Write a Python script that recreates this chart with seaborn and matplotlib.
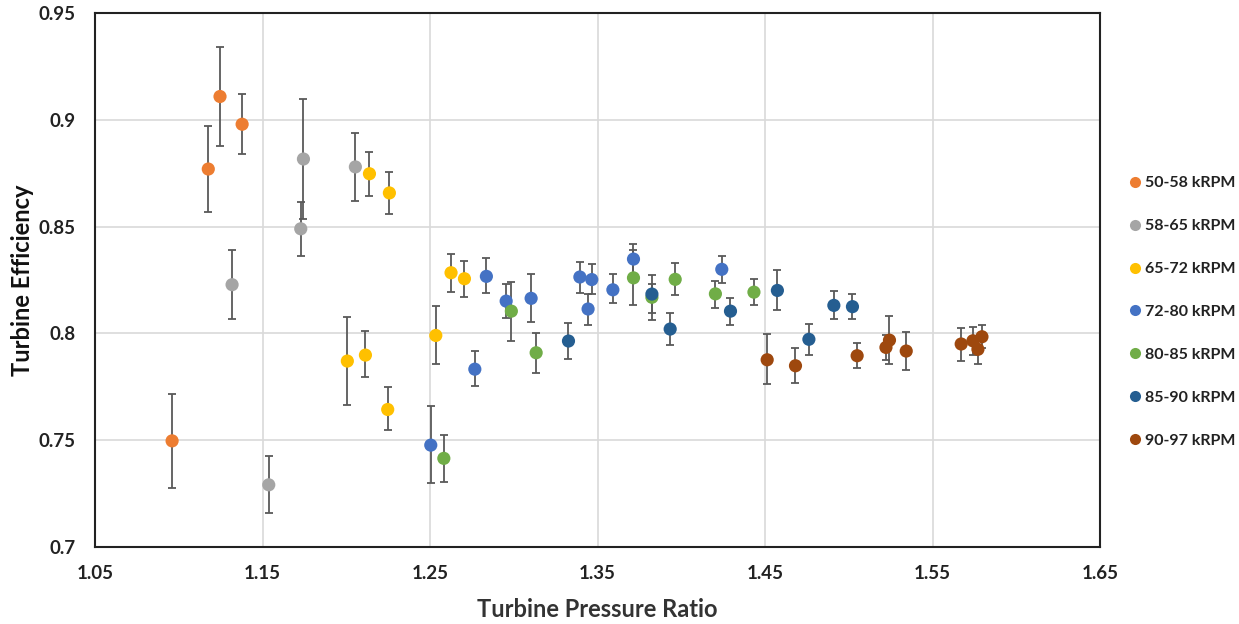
import numpy as np
import pandas as pd
import matplotlib
matplotlib.use("Agg")
import matplotlib.pyplot as plt
from matplotlib.lines import Line2D
import seaborn as sns

series_names = ["50-58 kRPM", "58-65 kRPM", "65-72 kRPM", "72-80 kRPM",
                "80-85 kRPM", "85-90 kRPM", "90-97 kRPM"]
series_colors = ["#ED7D31", "#A5A5A5", "#FFC000", "#4472C4",
                 "#70AD47", "#255E91", "#9E480E"]

# 50-58 kRPM
s1_x = [1.0960, 1.1176, 1.1246, 1.1378]
s1_y = [0.7496, 0.8770, 0.9110, 0.8980]
s1_hi = [0.7715, 0.8970, 0.9340, 0.9120]
s1_lo = [0.7277, 0.8570, 0.8880, 0.8840]

# 58-65 kRPM
s2_x = [1.1318, 1.1537, 1.1728, 1.1744, 1.2054]
s2_y = [0.8228, 0.7290, 0.8490, 0.8817, 0.8780]
s2_hi = [0.8390, 0.7425, 0.8617, 0.9100, 0.8940]
s2_lo = [0.8067, 0.7156, 0.8362, 0.8534, 0.8620]

# 65-72 kRPM
s3_x = [1.2006, 1.2114, 1.2138, 1.2247, 1.2257, 1.2534, 1.2625, 1.2705]
s3_y = [0.7870, 0.7898, 0.8748, 0.7643, 0.8658, 0.7990, 0.8284, 0.8256]
s3_hi = [0.8078, 0.8009, 0.8850, 0.7747, 0.8756, 0.8126, 0.8370, 0.8340]
s3_lo = [0.7662, 0.7794, 0.8644, 0.7545, 0.8560, 0.7856, 0.8192, 0.8169]

# 72-80 kRPM
s4_x = [1.2504, 1.2767, 1.2836, 1.2954, 1.3103, 1.3394, 1.3443, 1.3465,
        1.3591, 1.3714, 1.4241]
s4_y = [0.7476, 0.7832, 0.8267, 0.8151, 0.8164, 0.8264, 0.8114, 0.8252,
        0.8204, 0.8348, 0.8300]
s4_hi = [0.7659, 0.7917, 0.8353, 0.8232, 0.8279, 0.8336, 0.8183, 0.8323,
         0.8276, 0.8417, 0.8362]
s4_lo = [0.7297, 0.7754, 0.8189, 0.8070, 0.8051, 0.8191, 0.8040, 0.8185,
         0.8140, 0.8280, 0.8236]

# 80-85 kRPM
s5_x = [1.2582, 1.2985, 1.3133, 1.3714, 1.3824, 1.3963, 1.4203, 1.4433]
s5_y = [0.7414, 0.8104, 0.7909, 0.8260, 0.8169, 0.8253, 0.8185, 0.8193]
s5_hi = [0.7523, 0.8240, 0.8003, 0.8390, 0.8230, 0.8329, 0.8245, 0.8253]
s5_lo = [0.7301, 0.7962, 0.7815, 0.8132, 0.8064, 0.8181, 0.8118, 0.8134]

# 85-90 kRPM
s6_x = [1.3326, 1.3824, 1.3933, 1.4293, 1.4573, 1.4761, 1.4910, 1.5021]
s6_y = [0.7964, 0.8184, 0.8020, 0.8104, 0.8201, 0.7972, 0.8131, 0.8125]
s6_hi = [0.8047, 0.8273, 0.8095, 0.8165, 0.8297, 0.8043, 0.8198, 0.8185]
s6_lo = [0.7881, 0.8096, 0.7944, 0.8037, 0.8108, 0.7898, 0.8069, 0.8069]

# 90-97 kRPM
s7_x = [1.4512, 1.4681, 1.5049, 1.5221, 1.5242, 1.5342, 1.5670, 1.5740,
        1.5770, 1.5794]
s7_y = [0.7876, 0.7848, 0.7895, 0.7934, 0.7968, 0.7917, 0.7950, 0.7965,
        0.7925, 0.7984]
s7_hi = [0.7995, 0.7930, 0.7955, 0.7992, 0.8081, 0.8007, 0.8026, 0.8032,
         0.7980, 0.8039]
s7_lo = [0.7761, 0.7767, 0.7837, 0.7875, 0.7855, 0.7828, 0.7870, 0.7898,
         0.7858, 0.7930]

x_ticks = [1.05, 1.15, 1.25, 1.35, 1.45, 1.55, 1.65]
x_tick_labels = ["1.05", "1.15", "1.25", "1.35", "1.45", "1.55", "1.65"]
y_ticks = [0.7, 0.75, 0.8, 0.85, 0.9, 0.95]
y_tick_labels = ["0.7", "0.75", "0.8", "0.85", "0.9", "0.95"]

all_series = [(s1_x, s1_y, s1_hi, s1_lo), (s2_x, s2_y, s2_hi, s2_lo),
              (s3_x, s3_y, s3_hi, s3_lo), (s4_x, s4_y, s4_hi, s4_lo),
              (s5_x, s5_y, s5_hi, s5_lo), (s6_x, s6_y, s6_hi, s6_lo),
              (s7_x, s7_y, s7_hi, s7_lo)]

rows = []
for name, (xs, ys, his, los) in zip(series_names, all_series):
    for x, y, h, l in zip(xs, ys, his, los):
        rows.append({"ratio": x, "eff": y, "hi": h, "lo": l, "speed": name})
df = pd.DataFrame(rows)

sns.set_theme(style="white")
plt.rcParams["font.family"] = ["Lato", "DejaVu Sans"]

fig = plt.figure(figsize=(12.39, 6.24), dpi=100)
ax = fig.add_axes([0.0767, 0.1239, 0.8113, 0.8548])

# error bars
ax.errorbar(df["ratio"], df["eff"],
            yerr=[df["eff"] - df["lo"], df["hi"] - df["eff"]],
            fmt="none", ecolor="#595959", elinewidth=1.3, capsize=3,
            capthick=1.3, zorder=2)

sns.scatterplot(data=df, x="ratio", y="eff", hue="speed",
                hue_order=series_names, palette=series_colors,
                s=90, edgecolor="none", linewidth=0, ax=ax, zorder=3,
                legend=False)

ax.set_xlim(1.05, 1.65)
ax.set_ylim(0.7, 0.95)
ax.set_xticks(x_ticks)
ax.set_xticklabels(x_tick_labels)
ax.set_yticks(y_ticks)
ax.set_yticklabels(y_tick_labels)
ax.grid(True, color="#d9d9d9", linewidth=1.2)
ax.set_axisbelow(True)
for sp in ax.spines.values():
    sp.set_visible(True)
    sp.set_color("#222222")
    sp.set_linewidth(1.5)

ax.tick_params(axis="x", length=0, pad=13, labelsize=13.5)
ax.tick_params(axis="y", length=0, pad=14, labelsize=13.5)
for lab in ax.get_xticklabels() + ax.get_yticklabels():
    lab.set_fontweight("bold")
    lab.set_color("#222222")

ax.set_xlabel("Turbine Pressure Ratio", fontsize=17, fontweight="bold",
              color="#333333", labelpad=12)
ax.set_ylabel("Turbine Efficiency", fontsize=17, fontweight="bold",
              color="#111111", labelpad=3)

handles = [Line2D([0], [0], marker="o", linestyle="none", markersize=8,
                  markerfacecolor=c, markeredgecolor="none", label=n)
           for n, c in zip(series_names, series_colors)]
leg = fig.legend(handles=handles, loc="center left",
                 bbox_to_anchor=(0.898, 0.50), frameon=False,
                 labelspacing=1.8, handletextpad=0.1, handlelength=1.0,
                 prop={"weight": "bold", "size": 11.5})
for t in leg.get_texts():
    t.set_color("#222222")

fig.savefig("out.png", dpi=100)
